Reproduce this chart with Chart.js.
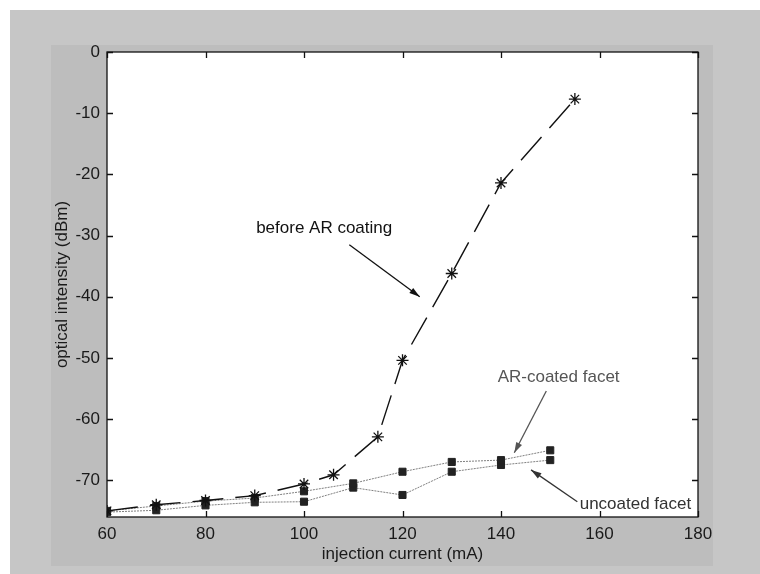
<!DOCTYPE html>
<html>
<head>
<meta charset="utf-8">
<script src="https://cdn.jsdelivr.net/npm/chart.js@4"></script>
<style>
  html, body { margin: 0; padding: 0; background: #fff; }
  #sheet { position: absolute; left: 10px; top: 10px; width: 750px; height: 564px; background: #c6c6c6; }
  #figure { position: absolute; left: 51px; top: 45px; width: 662px; height: 521px; background: #bdbdbd; }
  #wrap { position: absolute; left: 0; top: 0; width: 760px; height: 574px; }
</style>
</head>
<body>
<div id="sheet"></div>
<div id="figure"></div>
<div id="wrap"><canvas id="powerChart" width="760" height="574"></canvas></div>
<script>
// injection current (mA) vs optical intensity (dBm)
const beforeCurrent = [60, 70, 80, 90, 100, 106, 115, 120, 130, 140, 155]
const beforeIntensity = [-75.0, -74.0, -73.3, -72.5, -70.6, -69.1, -62.9, -50.4, -36.2, -21.4, -7.7]

const facetCurrent = [60, 70, 80, 90, 100, 110, 120, 130, 140, 150]
const arCoated = [-75.0, -74.2, -73.4, -72.9, -71.8, -70.5, -68.6, -67.0, -66.7, -65.1]
const uncoated = [-75.2, -74.9, -74.1, -73.6, -73.5, -71.2, -72.4, -68.6, -67.5, -66.7]

const xTicks = [60, 80, 100, 120, 140, 160, 180]
const yTicks = [0, -10, -20, -30, -40, -50, -60, -70]

// text labels with arrows, in data units
const notes = [
    { text: 'before AR coating', x: 104.1, y: -28.8, color: '#111', from: [109.2, -31.5], to: [123.5, -40.0] },
    { text: 'AR-coated facet', x: 151.7, y: -53.1, color: '#555', from: [149.2, -55.4], to: [142.7, -65.5] },
    { text: 'uncoated facet', x: 167.3, y: -74.0, color: '#333', from: [155.5, -73.5], to: [146.1, -68.3] }
]

const FONT = 'Liberation Sans, Arial, sans-serif'
const SIZE = 17

function pts(xs, ys) {
    return xs.map((x, i) => ({ x: x, y: ys[i] }))
}

const boxPlugin = {
    id: 'box',
    beforeDraw(chart) {
        const a = chart.chartArea
        const ctx = chart.ctx
        ctx.save()
        ctx.fillStyle = '#fff'
        ctx.fillRect(a.left, a.top, a.right - a.left, a.bottom - a.top)
        ctx.restore()
    },
    afterDraw(chart) {
        const a = chart.chartArea
        const ctx = chart.ctx
        const xs = chart.scales.x
        const ys = chart.scales.y
        const len = 6
        ctx.save()
        ctx.strokeStyle = '#111'
        ctx.lineWidth = 1.3
        ctx.strokeRect(a.left, a.top, a.right - a.left, a.bottom - a.top)
        ctx.beginPath()
        xTicks.forEach(v => {
            const px = Math.round(xs.getPixelForValue(v)) + 0.5
            ctx.moveTo(px, a.bottom); ctx.lineTo(px, a.bottom - len)
            ctx.moveTo(px, a.top); ctx.lineTo(px, a.top + len)
        })
        yTicks.forEach(v => {
            const py = Math.round(ys.getPixelForValue(v)) + 0.5
            ctx.moveTo(a.left, py); ctx.lineTo(a.left + len, py)
            ctx.moveTo(a.right, py); ctx.lineTo(a.right - len, py)
        })
        ctx.stroke()

        // notes and arrows
        ctx.font = SIZE + 'px ' + FONT
        ctx.textAlign = 'center'
        ctx.textBaseline = 'middle'
        notes.forEach(n => {
            ctx.fillStyle = n.color
            ctx.fillText(n.text, xs.getPixelForValue(n.x), ys.getPixelForValue(n.y))
            const x1 = xs.getPixelForValue(n.from[0]), y1 = ys.getPixelForValue(n.from[1])
            const x2 = xs.getPixelForValue(n.to[0]), y2 = ys.getPixelForValue(n.to[1])
            ctx.strokeStyle = n.color
            ctx.lineWidth = 1.3
            ctx.beginPath()
            ctx.moveTo(x1, y1); ctx.lineTo(x2, y2)
            ctx.stroke()
            const ang = Math.atan2(y2 - y1, x2 - x1)
            const h = 11, w = 0.3
            ctx.beginPath()
            ctx.moveTo(x2, y2)
            ctx.lineTo(x2 - h * Math.cos(ang - w), y2 - h * Math.sin(ang - w))
            ctx.lineTo(x2 - h * Math.cos(ang + w), y2 - h * Math.sin(ang + w))
            ctx.closePath()
            ctx.fillStyle = n.color
            ctx.fill()
        })
        ctx.restore()
    }
}

new Chart(document.getElementById('powerChart'), {
    type: 'line',
    data: {
        datasets: [{
            label: 'before AR coating',
            data: pts(beforeCurrent, beforeIntensity),
            borderColor: '#111',
            borderWidth: 1.4,
            borderDash: [31, 12],
            pointStyle: 'star',
            pointRadius: 6,
            pointBorderColor: '#111',
            pointBorderWidth: 1.3,
            tension: 0
        }, {
            label: 'AR-coated facet',
            data: pts(facetCurrent, arCoated),
            borderColor: '#808080',
            borderWidth: 1,
            borderDash: [2, 1],
            pointStyle: 'rect',
            pointRadius: 5,
            pointBackgroundColor: '#222',
            pointBorderColor: '#222',
            pointBorderWidth: 1,
            tension: 0
        }, {
            label: 'uncoated facet',
            data: pts(facetCurrent, uncoated),
            borderColor: '#808080',
            borderWidth: 1,
            borderDash: [2, 1],
            pointStyle: 'rect',
            pointRadius: 5,
            pointBackgroundColor: '#222',
            pointBorderColor: '#222',
            pointBorderWidth: 1,
            tension: 0
        }]
    },
    options: {
        responsive: false,
        animation: false,
        layout: { padding: { left: 0, right: 62, top: 52, bottom: 0 } },
        plugins: { legend: { display: false }, tooltip: { enabled: false } },
        scales: {
            x: {
                type: 'linear',
                min: 60,
                max: 180,
                afterBuildTicks: s => { s.ticks = xTicks.map(v => ({ value: v })) },
                afterFit: s => { s.height = 57 },
                grid: { display: false, drawTicks: false },
                border: { display: false },
                ticks: { color: '#1a1a1a', padding: 7, font: { family: FONT, size: SIZE } },
                title: {
                    display: true,
                    text: 'injection current (mA)',
                    color: '#1a1a1a',
                    font: { family: FONT, size: SIZE },
                    padding: { top: 0, bottom: 9 }
                }
            },
            y: {
                type: 'linear',
                min: -76,
                max: 0,
                afterBuildTicks: s => { s.ticks = yTicks.map(v => ({ value: v })) },
                afterFit: s => { s.width = 107 },
                grid: { display: false, drawTicks: false },
                border: { display: false },
                ticks: { color: '#1a1a1a', padding: 7, font: { family: FONT, size: SIZE } },
                title: {
                    display: true,
                    text: 'optical intensity (dBm)',
                    color: '#1a1a1a',
                    font: { family: FONT, size: SIZE },
                    padding: { top: 52, bottom: 0 }
                }
            }
        }
    },
    plugins: [boxPlugin]
})
</script>
</body>
</html>
